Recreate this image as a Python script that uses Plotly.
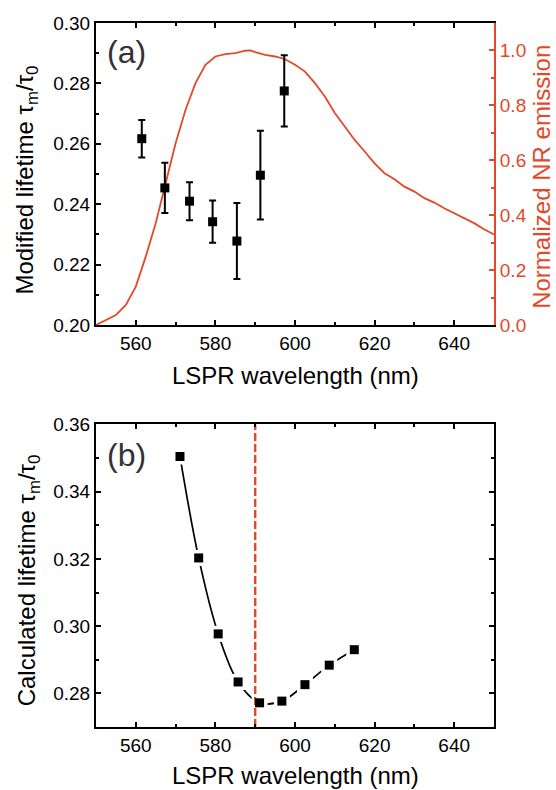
import plotly.graph_objects as go

# ---------------- data ----------------
# Panel (a): measured modified lifetime vs LSPR wavelength
meas_wl = [561.5, 567.3, 573.5, 579.3, 585.4, 591.3, 597.3]
meas_tau = [0.2617, 0.2454, 0.2410, 0.2342, 0.2278, 0.2496, 0.2775]
meas_err = [0.0062, 0.0083, 0.0063, 0.0070, 0.0126, 0.0147, 0.0118]

# Panel (a): normalized NR emission spectrum (right axis)
emis_wl = [550.0, 552.5, 555.0, 557.5, 560.0, 562.5, 565.0, 567.5, 570.0, 572.5,
           575.0, 577.5, 580.0, 582.5, 585.0, 587.5, 588.8, 590.0, 592.5, 595.0,
           597.5, 600.0, 602.5, 605.0, 607.5, 610.0, 612.5, 615.0, 617.5, 620.0,
           622.5, 625.0, 627.5, 630.0, 632.5, 635.0, 637.5, 640.0, 642.5, 645.0,
           647.5, 650.0]
emis_val = [0.000, 0.018, 0.036, 0.073, 0.140, 0.249, 0.371, 0.516, 0.662, 0.784,
            0.881, 0.948, 0.978, 0.987, 0.990, 0.999, 1.000, 0.994, 0.984, 0.978,
            0.968, 0.948, 0.923, 0.881, 0.832, 0.772, 0.723, 0.674, 0.632, 0.589,
            0.553, 0.531, 0.504, 0.486, 0.462, 0.446, 0.425, 0.407, 0.389, 0.371,
            0.349, 0.330]

# Panel (b): calculated lifetime
calc_wl = [571.1, 575.8, 580.7, 585.7, 591.1, 596.7, 602.5, 608.6, 614.9]
calc_tau = [0.3505, 0.3203, 0.2977, 0.2834, 0.2772, 0.2777, 0.2826, 0.2884, 0.2930]

resonance_wl = 590.0  # dashed marker line in panel (b)

# axis ranges / ticks
x_range = [550, 650]
ya_range = [0.20, 0.30]
ya2_range = [0.0, 1.1]
yb_range = [0.27, 0.36]

RED = "#E2492B"
FONT = "Liberation Sans, Arial, sans-serif"

fig = go.Figure()

# ---- panel (a) ----
fig.add_trace(go.Scatter(x=emis_wl, y=emis_val, xaxis="x", yaxis="y", mode="lines",
                         line=dict(color=RED, width=1.8), hoverinfo="skip"))
fig.add_trace(go.Scatter(x=meas_wl, y=meas_tau, xaxis="x", yaxis="y2", mode="markers",
                         marker=dict(symbol="square", size=9, color="black"),
                         error_y=dict(type="data", array=meas_err, color="black",
                                      thickness=2, width=3.5)))

# ---- panel (b) ----
fig.add_trace(go.Scatter(x=calc_wl, y=calc_tau, xaxis="x2", yaxis="y3", mode="lines",
                         line=dict(color="black", width=1.7, shape="spline", smoothing=1.0)))
fig.add_trace(go.Scatter(x=calc_wl, y=calc_tau, xaxis="x2", yaxis="y3", mode="markers",
                         marker=dict(symbol="square", size=16, color="white")))
fig.add_trace(go.Scatter(x=[resonance_wl, resonance_wl], y=yb_range, xaxis="x2", yaxis="y3",
                         mode="lines", line=dict(color=RED, width=2.4, dash="8px,3px")))
fig.add_trace(go.Scatter(x=calc_wl, y=calc_tau, xaxis="x2", yaxis="y3", mode="markers",
                         marker=dict(symbol="square", size=9, color="black")))

tickfont = dict(family=FONT, size=19, color="black")
common_x = dict(range=x_range, dtick=20, ticks="inside", ticklen=5, tickwidth=2,
                tickcolor="black", showline=True, linewidth=2, linecolor="black",
                mirror="ticks", showgrid=False, zeroline=False, tickfont=tickfont,
                minor=dict(dtick=10, ticks="inside", ticklen=3, tickwidth=2,
                           tickcolor="black", showgrid=False))

dom_a = [0.571, 1.0]
dom_b = [0.0, 0.4297]

fig.update_layout(
    width=556, height=790,
    margin=dict(l=96, r=62, t=23, b=63),
    paper_bgcolor="white", plot_bgcolor="white",
    showlegend=False,
    font=dict(family=FONT, color="black"),
    xaxis=dict(domain=[0, 1], anchor="y", **common_x),
    yaxis=dict(domain=dom_a, anchor="x", side="right", range=ya2_range, dtick=0.2,
               tickformat=".1f", ticks="inside", ticklen=5, tickwidth=2, tickcolor=RED,
               showline=True, linewidth=2, linecolor=RED, showgrid=False, zeroline=False,
               tickfont=dict(family=FONT, size=19, color=RED),
               minor=dict(dtick=0.1, ticks="inside", ticklen=3, tickwidth=2,
                          tickcolor=RED, showgrid=False)),
    yaxis2=dict(overlaying="y", anchor="x", side="left", range=ya_range, dtick=0.02,
                tickformat=".2f", ticks="inside", ticklen=5, tickwidth=2, tickcolor="black",
                showline=True, linewidth=2, linecolor="black", showgrid=False,
                zeroline=False, tickfont=tickfont,
                minor=dict(dtick=0.01, ticks="inside", ticklen=3, tickwidth=2,
                           tickcolor="black", showgrid=False)),
    xaxis2=dict(domain=[0, 1], anchor="y3", **common_x),
    yaxis3=dict(domain=dom_b, anchor="x2", range=yb_range, dtick=0.02, tickformat=".2f",
                ticks="inside", ticklen=5, tickwidth=2, tickcolor="black",
                showline=True, linewidth=2, linecolor="black", mirror="ticks",
                showgrid=False, zeroline=False, tickfont=tickfont,
                minor=dict(dtick=0.01, ticks="inside", ticklen=3, tickwidth=2,
                           tickcolor="black", showgrid=False)),
)

title_font = dict(family=FONT, size=24, color="black")
annotations = [
    dict(text="LSPR wavelength (nm)", x=0.5, y=0.5, xref="paper", yref="paper",
         xanchor="center", yanchor="middle", showarrow=False, font=title_font),
    dict(text="LSPR wavelength (nm)", x=0.5, y=-0.0685, xref="paper", yref="paper",
         xanchor="center", yanchor="middle", showarrow=False, font=title_font),
    dict(text="Modified lifetime τ<sub>m</sub>/τ<sub>0</sub>", x=-0.1744, y=0.777,
         xref="paper", yref="paper", xanchor="center", yanchor="middle",
         textangle=-90, showarrow=False, font=title_font),
    dict(text="Calculated lifetime τ<sub>m</sub>/τ<sub>0</sub>", x=-0.170, y=0.2088,
         xref="paper", yref="paper", xanchor="center", yanchor="middle",
         textangle=-90, showarrow=False, font=title_font),
    dict(text="Normalized NR emission", x=1.121, y=0.7817, xref="paper", yref="paper",
         xanchor="center", yanchor="middle", textangle=-90, showarrow=False,
         font=dict(family=FONT, size=24, color=RED)),
    dict(text="(a)", x=0.0216, y=0.9588, xref="paper", yref="paper", xanchor="left",
         yanchor="middle", showarrow=False, font=dict(family=FONT, size=32, color="#333333")),
    dict(text="(b)", x=0.0235, y=0.386, xref="paper", yref="paper", xanchor="left",
         yanchor="middle", showarrow=False, font=dict(family=FONT, size=32, color="#333333")),
]
fig.update_layout(annotations=annotations)

# remove the default 8px page margin so the 556x790 figure fills the window exactly
fig.write_html("out.html", config={"displayModeBar": False},
               post_script="document.body.style.margin='0';document.body.style.overflow='hidden';")
